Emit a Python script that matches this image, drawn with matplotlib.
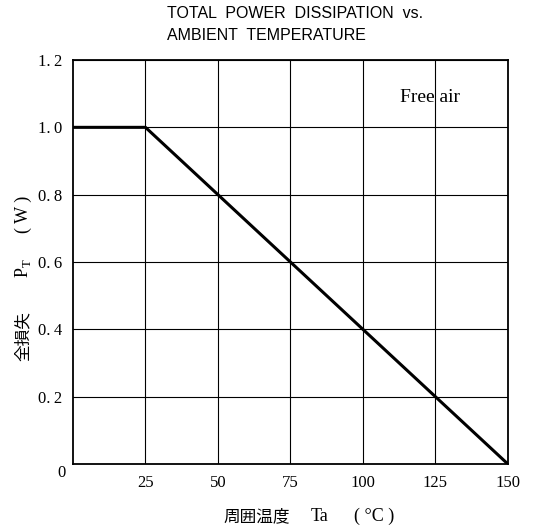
import matplotlib.pyplot as plt

plt.rcParams['mathtext.fontset'] = 'custom'
plt.rcParams['mathtext.rm'] = 'Liberation Serif'

# Derating curve: flat to 25 C, then linear down to zero at 150 C
ta = [0, 25, 150]
pt = [1.0, 1.0, 0.0]

x_ticks = [25, 50, 75, 100, 125, 150]
y_ticks = [0.2, 0.4, 0.6, 0.8, 1.0, 1.2]

serif = 'Liberation Serif'
cjk = 'Noto Sans CJK JP'

fig = plt.figure(figsize=(5.38, 5.32), dpi=100)
ax = fig.add_axes([0.1357, 0.1278, 0.8083, 0.7594])

ax.plot(ta, pt, color='black', linewidth=2.2, solid_capstyle='butt')

ax.set_xlim(0, 150)
ax.set_ylim(0, 1.2)
ax.set_xticks(x_ticks)
ax.set_yticks(y_ticks)
ax.set_xticklabels([str(v) for v in x_ticks], fontfamily=serif, fontsize=12)
ax.set_yticklabels([('%.1f' % v).replace('.', '.\u2009') for v in y_ticks],
                   fontfamily=serif, fontsize=12)
ax.tick_params(length=0, pad=8)
ax.grid(True, color='black', linewidth=0.8)
for s in ax.spines.values():
    s.set_linewidth(1.3)


def put(x, y, s, **kw):
    # place text by pixel position from the top-left corner
    kw.setdefault('va', 'center')
    fig.text(x / 538, 1 - y / 532, s, ha='center', **kw)


# shared origin label
put(61, 473, '0', fontfamily=serif, fontsize=12)

ax.text(0.82, 0.906, 'Free air', transform=ax.transAxes, ha='center',
        va='center', fontfamily=serif, fontsize=14)

# x axis title, all pieces on one baseline
put(257, 521, '周囲温度', fontfamily=cjk, fontsize=12, va='baseline')
put(320, 521, 'Ta', fontfamily=serif, fontsize=13, va='baseline')
put(374, 521, '( °C )', fontfamily=serif, fontsize=13, va='baseline')

# y axis title, rotated about a shared baseline
rot = dict(rotation=90, rotation_mode='anchor', va='baseline')
put(28, 336, '全損失', fontfamily=cjk, fontsize=12, **rot)
put(28, 268, r'$\mathrm{P}_\mathrm{T}$', fontsize=13, **rot)
put(28, 214, '( W )', fontfamily=serif, fontsize=13, **rot)

fig.text(167 / 538, 1 - 14 / 532, 'TOTAL  POWER  DISSIPATION  vs.',
         ha='left', va='center', fontfamily='Liberation Sans', fontsize=11.5)
fig.text(167 / 538, 1 - 36 / 532, 'AMBIENT  TEMPERATURE',
         ha='left', va='center', fontfamily='Liberation Sans', fontsize=11.5)

fig.savefig('out.png', dpi=100)
